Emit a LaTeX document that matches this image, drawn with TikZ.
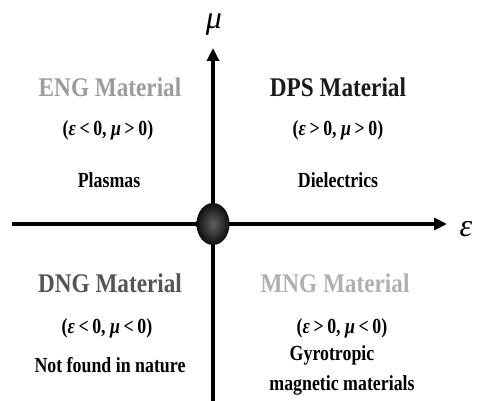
\documentclass[tikz,border=0pt]{standalone}
\usepackage{fontspec}
\setmainfont{Liberation Serif}
\newfontfamily\condserif[FakeStretch=0.86]{Liberation Serif}
\newfontfamily\condsmall[FakeStretch=0.83]{Liberation Serif}
\usetikzlibrary{arrows.meta,shapes.geometric}
\definecolor{engcol}{HTML}{9C9C9C}
\definecolor{dngcol}{HTML}{555555}
\definecolor{mngcol}{HTML}{B0B0B0}
\definecolor{dpscol}{HTML}{1A1A1A}
\tikzset{
  axis/.style={line width=3.2pt,-{Triangle[length=13pt,width=12pt]}},
  plainaxis/.style={line width=3.2pt},
  head/.style={font=\condserif\bfseries\fontsize{27}{28}\selectfont,inner sep=0pt,anchor=center},
  cond/.style={font=\condsmall\bfseries\fontsize{21.5}{22}\selectfont,inner sep=0pt,anchor=center,align=center},
  axlabel/.style={font=\itshape\fontsize{32}{32}\selectfont,inner sep=0pt}
}
\begin{document}
\begin{tikzpicture}[x=1pt,y=-1pt]
\useasboundingbox (0,0) rectangle (479,401);
\coordinate (ybot) at (213,401);
\coordinate (ytop) at (213,48);
\coordinate (xleft) at (12,224);
\coordinate (xright) at (447,224);
\draw[plainaxis] (ybot) -- (213,224);
\draw[axis] (213,224) -- (ytop);
\draw[axis] (xleft) -- (xright);
\node[ellipse,minimum width=33pt,minimum height=42pt,inner sep=0pt,
      inner color=black!62,outer color=black!95] (origin) at (213,224) {};
\node[axlabel] (mu) at (214,25) {μ};
\node[axlabel] (eps) at (466,229) {ε};
% quadrant II
\node[head,text=engcol] (eng) at (110,87) {ENG Material};
\node[cond] (engc) at (108,130) {(\textit{ε}\,<\,0, \textit{μ}\,>\,0)};
\node[cond] (engx) at (109,180) {Plasmas};
% quadrant I
\node[head,text=dpscol] (dps) at (338,87) {DPS Material};
\node[cond] (dpsc) at (338,130) {(\textit{ε}\,>\,0, \textit{μ}\,>\,0)};
\node[cond] (dpsx) at (338,180) {Dielectrics};
% quadrant III
\node[head,text=dngcol] (dng) at (110,283) {DNG Material};
\node[cond] (dngc) at (107,328) {(\textit{ε}\,<\,0, \textit{μ}\,<\,0)};
\node[cond] (dngx) at (110,365) {Not found in nature};
% quadrant IV
\node[head,text=mngcol] (mng) at (335,283) {MNG Material};
\node[cond] (mngc) at (342,328) {(\textit{ε}\,>\,0, \textit{μ}\,<\,0)};
\node[cond] (mngx1) at (332,355) {Gyrotropic};
\node[cond] (mngx2) at (342,385) {magnetic materials};
\end{tikzpicture}
\end{document}
